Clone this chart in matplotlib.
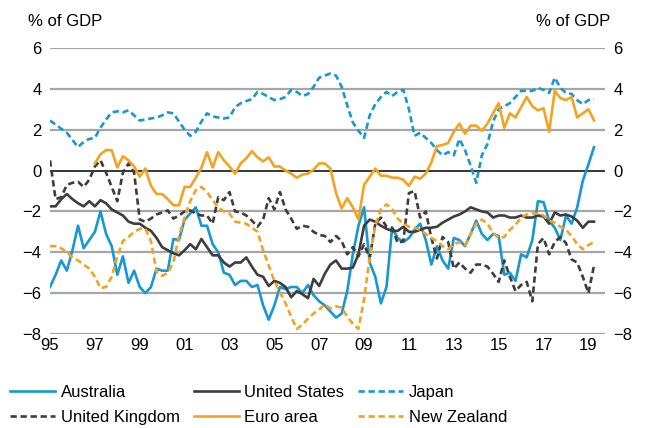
import numpy as np
import matplotlib
matplotlib.use('Agg')
import matplotlib.pyplot as plt

plt.rcParams['font.family'] = ['Liberation Sans', 'DejaVu Sans']

# Current account balance, % of GDP, quarterly from 1995 Q1 to 2019 Q2
australia = [-5.7, -5.1, -4.4, -4.9, -3.9, -2.7, -3.8, -3.4, -3.0, -2.0,
             -3.1, -3.7, -5.1, -4.2, -5.5, -4.9, -5.7, -6.0, -5.7, -4.8,
             -4.9, -4.9, -3.35, -3.4, -2.4, -2.1, -1.8, -2.7, -2.7, -3.6,
             -4.0, -5.0, -5.1, -5.6, -5.4, -5.4, -5.7, -5.6, -6.6, -7.3,
             -6.6, -5.7, -5.8, -5.7, -5.7, -6.0, -5.6, -6.1, -6.4, -6.6,
             -6.9, -7.2, -7.0, -5.9, -4.1, -2.7, -1.8, -4.5, -5.2, -6.5,
             -5.7, -2.8, -3.3, -3.5, -3.3, -2.9, -2.6, -3.4, -4.6, -3.7,
             -4.4, -4.8, -3.3, -3.4, -3.7, -3.1, -2.45, -3.1, -3.4, -3.1,
             -3.2, -5.1, -5.0, -5.4, -4.1, -4.25, -3.4, -1.5, -1.55, -2.45,
             -2.8, -3.4, -2.2, -2.6, -1.8, -0.5, 0.3, 1.15]

united_states = [-1.75, -1.75, -1.4, -1.15, -1.4, -1.6, -1.75, -1.5, -1.75, -1.45,
                 -1.6, -1.9, -2.05, -2.2, -2.5, -2.6, -2.6, -2.8, -2.95, -3.3,
                 -3.75, -3.9, -4.05, -4.15, -3.9, -3.6, -3.85, -3.35, -3.75, -4.15,
                 -4.15, -4.5, -4.7, -4.5, -4.5, -4.25, -4.7, -5.1, -5.2, -5.65,
                 -5.4, -5.5, -5.7, -6.2, -5.9, -6.05, -6.25, -5.3, -5.65, -5.05,
                 -4.6, -4.4, -4.8, -4.8, -4.75, -4.1, -2.7, -2.4, -2.5, -2.7,
                 -2.85, -2.95, -2.95, -2.75, -3.0, -3.0, -2.9, -2.8, -2.8, -2.75,
                 -2.55, -2.4, -2.25, -2.15, -2.0, -1.8, -1.9, -2.0, -2.05, -2.3,
                 -2.2, -2.2, -2.3, -2.3, -2.2, -2.3, -2.3, -2.2, -2.25, -2.6,
                 -2.05, -2.2, -2.15, -2.25, -2.45, -2.8, -2.5, -2.5]

japan = [2.45, 2.25, 2.05, 1.85, 1.5, 1.15, 1.4, 1.55, 1.6, 2.1,
         2.5, 2.85, 2.9, 2.85, 2.95, 2.7, 2.45, 2.5, 2.55, 2.6,
         2.7, 2.85, 2.8, 2.4, 2.0, 1.7, 1.9, 2.4, 2.8, 2.65,
         2.6, 2.55, 2.6, 3.1, 3.3, 3.4, 3.5, 3.85, 3.75, 3.6,
         3.45, 3.5, 3.6, 3.95, 3.85, 3.65, 3.75, 4.1, 4.55, 4.65,
         4.75, 4.65, 4.1, 3.2, 2.35, 1.95, 1.6, 2.7, 3.25, 3.6,
         3.85, 3.65, 3.85, 3.95, 3.0, 1.7, 1.85, 1.6, 1.35, 1.0,
         0.75, 0.9, 0.75, 1.55, 1.0, 0.25, -0.6, 0.75, 1.3, 2.4,
         3.0, 3.15, 3.3, 3.6, 3.9, 3.9, 3.9, 4.05, 3.95, 3.8,
         4.55, 4.05, 3.8, 3.75, 3.45, 3.25, 3.45, 3.5]

united_kingdom = [0.5, -1.4, -1.3, -0.7, -0.6, -0.55, -0.8, -0.45, 0.2, 0.5,
                  -0.1, -0.8, -1.5, -0.1, 0.35, -0.1, -2.4, -2.5, -2.35, -2.15,
                  -2.05, -1.95, -2.35, -2.2, -2.0, -1.95, -2.1, -2.2, -2.2, -2.6,
                  -1.3, -1.45, -1.05, -2.0, -2.05, -2.2, -2.45, -2.75, -2.4, -1.35,
                  -1.9, -1.05, -1.9, -2.35, -2.85, -2.7, -2.75, -3.0, -3.15, -3.2,
                  -3.5, -3.2, -3.45, -4.1, -3.75, -4.2, -3.6, -4.3, -2.6, -2.3,
                  -2.75, -2.8, -3.55, -3.45, -1.1, -1.0, -2.3, -2.0, -3.3, -4.3,
                  -3.25, -3.5, -4.8, -4.5, -4.8, -5.0, -4.6, -4.6, -4.7, -5.05,
                  -5.45, -4.4, -5.2, -5.9, -5.6, -5.45, -6.4, -3.6, -3.3, -4.1,
                  -3.5, -3.25, -3.55, -4.35, -4.5, -5.2, -6.0, -4.65]

# euro area series begins in 1997 Q1
euro_area = [0.35, 0.8, 1.0, 1.0, 0.15, 0.7, 0.5, 0.2, -0.3, 0.1,
             -0.75, -1.15, -1.15, -1.4, -1.7, -1.7, -0.8, -0.8, -0.35, 0.15,
             0.9, 0.15, 0.9, 0.5, 0.2, -0.15, 0.35, 0.6, 0.95, 0.65,
             0.45, 0.65, 0.2, 0.2, 0.0, -0.15, -0.35, -0.2, -0.15, 0.05,
             0.35, 0.35, 0.1, -1.1, -1.85, -1.35, -1.8, -2.4, -0.7, -0.3,
             0.1, -0.25, -0.25, -0.35, -0.35, -0.45, -0.75, -0.3, -0.4, -0.15,
             0.4, 1.2, 1.25, 1.35, 1.9, 2.3, 1.8, 2.2, 2.2, 1.95,
             2.3, 2.8, 3.3, 2.1, 2.8, 2.6, 3.1, 3.6, 3.15, 2.95,
             3.05, 1.9, 3.9, 3.55, 3.45, 3.6, 2.6, 2.8, 3.0, 2.45]

new_zealand = [-3.7, -3.7, -3.8, -4.0, -4.25, -4.4, -4.6, -4.8, -5.2, -5.75,
               -5.7, -5.2, -4.2, -3.45, -3.25, -3.0, -2.85, -2.85, -3.45, -4.95,
               -5.15, -5.0, -4.5, -3.2, -2.3, -1.5, -0.95, -0.8, -1.05, -1.45,
               -1.8, -2.0, -2.1, -2.5, -2.55, -2.6, -2.8, -3.0, -3.9, -4.65,
               -5.4, -5.95, -6.5, -7.15, -7.75, -7.55, -7.25, -7.0, -6.8, -6.55,
               -6.75, -6.65, -6.7, -7.15, -7.5, -7.75, -6.3, -4.25, -2.7, -1.9,
               -1.65, -1.9, -2.35, -2.6, -2.75, -2.8, -2.9, -3.1, -3.3, -3.45,
               -3.7, -3.85, -3.6, -3.5, -3.65, -3.1, -2.6, -2.4, -2.6, -3.05,
               -3.3, -3.25, -2.9, -2.65, -2.3, -2.15, -2.1, -2.1, -2.2, -2.45,
               -2.55, -2.75, -2.9, -3.2, -3.6, -3.85, -3.65, -3.5]

year_ticks = list(range(1995, 2020, 2))
y_ticks = [-8, -6, -4, -2, 0, 2, 4, 6]

blue = '#1797d4'
dark = '#3d3d3d'
orange = '#f5a21f'

t = 1995 + np.arange(len(australia)) / 4
t_euro = 1997 + np.arange(len(euro_area)) / 4

fig = plt.figure(figsize=(6.56, 4.28), dpi=100)
ax = fig.add_axes([50 / 656, 94 / 428, 555 / 656, 286 / 428])

for y in y_ticks:
    if y == 0:
        ax.axhline(y, color='black', lw=1.1, zorder=1)
    else:
        ax.axhline(y, color='#a6a6a6', lw=1.6, zorder=1)

lw = 1.9
dash = (2.4, 1.4)
ax.plot(t, australia, color=blue, lw=lw, label='Australia', zorder=3)
ax.plot(t, united_states, color=dark, lw=lw, label='United States', zorder=3)
ax.plot(t, japan, color=blue, lw=lw, dashes=dash, label='Japan', zorder=3)
ax.plot(t, united_kingdom, color=dark, lw=lw, dashes=dash,
        label='United Kingdom', zorder=3)
ax.plot(t_euro, euro_area, color=orange, lw=lw, label='Euro area', zorder=3)
ax.plot(t, new_zealand, color=orange, lw=lw, dashes=dash,
        label='New Zealand', zorder=3)

ax.set_xlim(1995, 2019.74)
ax.set_ylim(-8, 6)
ax.set_xticks(year_ticks)
ax.set_xticklabels([f'{y % 100:02d}' for y in year_ticks])
ax.set_yticks(y_ticks)
ax.tick_params(axis='both', length=0, labelsize=12, colors='black')
ax.tick_params(axis='x', pad=3)
ax.tick_params(axis='y', pad=6, labelleft=True, labelright=True)
for s in ax.spines.values():
    s.set_visible(False)

fig.text(28 / 656, 1 - 21 / 428, '% of GDP', fontsize=12, ha='left', va='center')
fig.text(610 / 656, 1 - 21 / 428, '% of GDP', fontsize=12, ha='right', va='center')

h, l = ax.get_legend_handles_labels()
order = [0, 3, 1, 4, 2, 5]
fig.legend([h[i] for i in order], [l[i] for i in order], ncol=3,
           loc='upper left', bbox_to_anchor=(10 / 656, 1 - 385 / 428),
           frameon=False, fontsize=12, handlelength=2.7, handletextpad=0.33,
           columnspacing=0.85, labelspacing=0.6, borderpad=0, borderaxespad=0)

fig.savefig('out.png', dpi=100)
